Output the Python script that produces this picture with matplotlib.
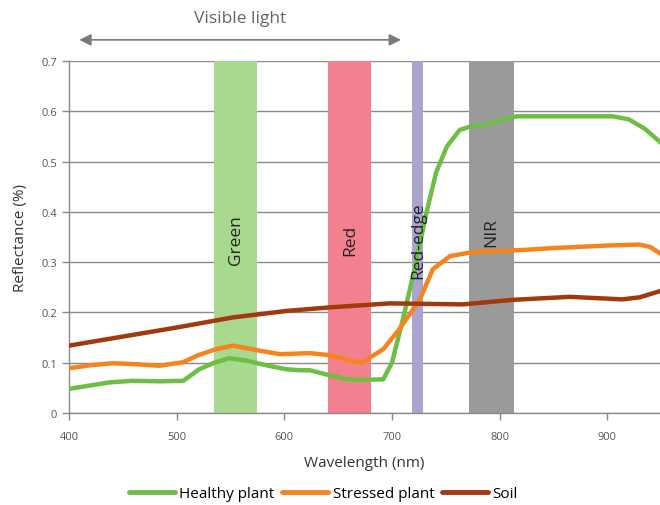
import matplotlib
matplotlib.use("Agg")
import matplotlib.pyplot as plt
from matplotlib.lines import Line2D

plt.rcParams['font.family'] = ['Open Sans', 'DejaVu Sans']

# Data
healthy_x = [400, 438, 459, 485, 506, 521, 535, 549, 565, 585, 602, 615, 624, 642, 658, 675, 692, 700, 711, 723, 732, 741, 751, 763, 775, 788, 800, 816, 850, 905, 920, 935, 950]
healthy_y = [0.048, 0.061, 0.064, 0.063, 0.064, 0.087, 0.100, 0.109, 0.104, 0.094, 0.087, 0.085, 0.085, 0.075, 0.067, 0.066, 0.067, 0.100, 0.193, 0.306, 0.398, 0.478, 0.530, 0.563, 0.571, 0.573, 0.582, 0.590, 0.590, 0.590, 0.584, 0.565, 0.537]

stressed_x = [400, 420, 441, 462, 484, 506, 519, 535, 552, 577, 596, 624, 642, 660, 672, 692, 707, 726, 738, 754, 775, 809, 828, 850, 900, 930, 940, 950]
stressed_y = [0.089, 0.095, 0.099, 0.097, 0.094, 0.101, 0.114, 0.126, 0.134, 0.124, 0.117, 0.119, 0.115, 0.105, 0.100, 0.127, 0.167, 0.226, 0.286, 0.312, 0.320, 0.323, 0.325, 0.328, 0.333, 0.335, 0.330, 0.316]

soil_x = [400, 450, 500, 552, 602, 642, 698, 766, 812, 865, 914, 930, 950]
soil_y = [0.134, 0.152, 0.170, 0.190, 0.203, 0.210, 0.218, 0.216, 0.225, 0.231, 0.226, 0.230, 0.243]

band_names = ["Green", "Red", "Red-edge", "NIR"]
band_lo = [535, 641, 719, 772]
band_hi = [575, 681, 729, 813]
band_colors = ["#a9d88f", "#f2808e", "#aba4cf", "#9b9a9a"]
band_label_y = [0.345, 0.345, 0.345, 0.36]

series_names = ["Healthy plant", "Stressed plant", "Soil"]
series_colors = ["#6dbe45", "#f5841f", "#a2390e"]

x_ticks = [400, 500, 600, 700, 800, 900]
y_ticks = [0, 0.1, 0.2, 0.3, 0.4, 0.5, 0.6, 0.7]
y_ticklabels = ["0", "0.1", "0.2", "0.3", "0.4", "0.5", "0.6", "0.7"]

fig = plt.figure(figsize=(6.6, 5.06), dpi=100)
ax = fig.add_axes([0.1045, 0.1818, 0.8955, 0.6957])
ax.set_xlim(400, 949)
ax.set_ylim(0, 0.7)

for yv in y_ticks:
    ax.axhline(yv, color="#8a8a8a", lw=1.0, zorder=1)

for name, lo, hi, c, ly in zip(band_names, band_lo, band_hi, band_colors, band_label_y):
    ax.axvspan(lo, hi, color=c, lw=0, zorder=2)
    ax.text((lo + hi) / 2, ly, name, rotation=90, ha="center", va="center",
            fontsize=12.5, color="#222222", zorder=5)

for xs, ys, c in zip([healthy_x, stressed_x, soil_x], [healthy_y, stressed_y, soil_y], series_colors):
    ax.plot(xs, ys, color=c, lw=3.2, solid_joinstyle="round", solid_capstyle="round", zorder=4)

for s in ["top", "right"]:
    ax.spines[s].set_visible(False)
for s in ["left", "bottom"]:
    ax.spines[s].set_color("#8a8a8a")
    ax.spines[s].set_linewidth(1.0)

ax.set_xticks(x_ticks)
ax.set_yticks(y_ticks)
ax.set_yticklabels(y_ticklabels)
ax.tick_params(axis="both", colors="#8a8a8a", labelcolor="#555555", labelsize=8, length=5, width=1.0)
ax.tick_params(axis="x", pad=8)

ax.set_xlabel("Wavelength (nm)", fontsize=11, color="#333333", labelpad=9)
ax.set_ylabel("Reflectance (%)", fontsize=11, color="#333333", labelpad=10)

# Visible light arrow
ax.annotate("", xy=(407, 0.742), xytext=(711, 0.742), xycoords="data",
            arrowprops=dict(arrowstyle="<|-|>,head_length=0.7,head_width=0.35", color="#7a7a7a", lw=1.2),
            annotation_clip=False)
ax.text(559, 0.785, "Visible light", ha="center", va="center", fontsize=12.5, color="#666666", clip_on=False)

handles = [Line2D([0], [0], color=c, lw=3.5, solid_capstyle="round") for c in series_colors]
fig.legend(handles, series_names, loc="center", bbox_to_anchor=(0.49, 0.022), ncol=3, frameon=False,
           fontsize=11, handlelength=3.0, columnspacing=0.5, handletextpad=0.3)

fig.savefig("out.png", dpi=100)
